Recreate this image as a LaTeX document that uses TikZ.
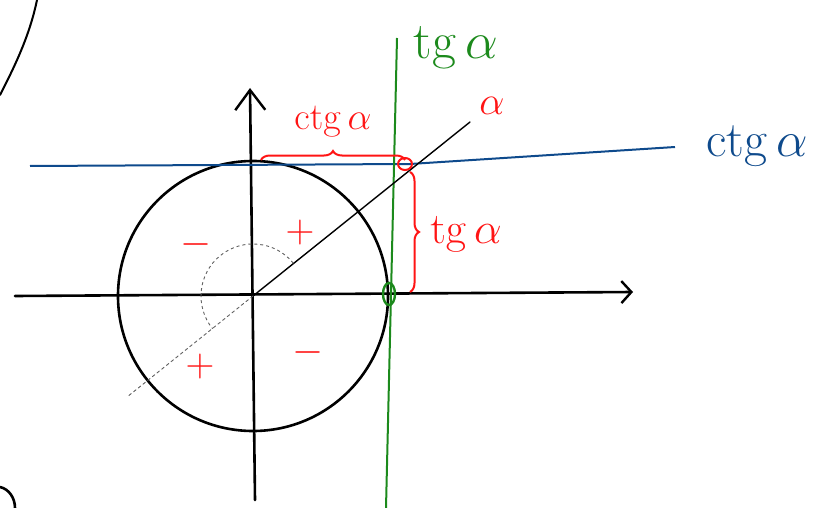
\documentclass[tikz,border=0pt]{standalone}
\usepackage{fix-cm}
\usepackage{amsmath}
\usepackage{xcolor}
\usepackage{tikz}
\usetikzlibrary{arrows.meta,decorations.pathreplacing}
\definecolor{PenRed}{HTML}{FF1414}
\definecolor{PenGreen}{HTML}{1C8A1C}
\definecolor{PenBlue}{HTML}{0E4A8C}
\definecolor{PenGray}{HTML}{606060}

\begin{document}
\begin{tikzpicture}[
    x=1pt, y=-1pt,
    pen/.style={line width=2.6pt, line cap=round, line join=round},
    thin pen/.style={line width=1.4pt, line cap=round},
    axis/.style={pen, -{Straight Barb[length=10pt, width=22pt, line width=2.4pt]}},
    yaxis/.style={pen, -{Straight Barb[length=20pt, width=30pt, line width=2.4pt]}},
    tgline/.style={line width=2pt, draw=PenGreen},
    ctgline/.style={line width=2pt, draw=PenBlue, line join=round},
    brc/.style={decorate, decoration={brace, amplitude=9pt}, line width=2pt, draw=PenRed},
    sgn/.style={text=PenRed, font=\fontsize{40}{42}\selectfont},
    lbl/.style={font=\fontsize{#1}{#1}\selectfont}
  ]
    \useasboundingbox (0,0) rectangle (813,508);

    % points of the sketch
    \coordinate (o) at (253,296);
    \coordinate (xl) at (15,296);
    \coordinate (xr) at (633,292);
    \coordinate (yb) at (255,500);
    \coordinate (yt) at (250,88);
    \coordinate (rad) at (470,122);
    \coordinate (opp) at (127,397);
    \coordinate (ctgl) at (30,166);
    \coordinate (ctgm) at (410,164);
    \coordinate (ctgr) at (675,147);
    \coordinate (tgt) at (397,38);
    \coordinate (tgb) at (386,508);
    \coordinate (tan) at (389,294);
    \coordinate (cross) at (405,164);

    % axes and unit circle
    \draw[axis] (xl) -- (xr);
    \draw[yaxis] (yb) -- (yt);
    \draw[pen] (o) circle[radius=135];

    % tangent and cotangent lines
    \draw[ctgline] (ctgl) -- (ctgm) -- (ctgr);
    \draw[tgline] (tgt) -- (tgb);
    \draw[tgline, line width=2.4pt] (tan) ellipse[x radius=6, y radius=11];

    % angle and its opposite ray
    \draw[thin pen] (o) -- (rad);
    \draw[thin pen, draw=PenGray, dashed, line width=0.9pt] (o) -- (opp);
    \draw[draw=PenGray, dashed, line width=0.9pt] ([shift={(-39:52)}]o) arc[start angle=-39, end angle=-219, radius=52];

    % braces
    \draw[brc] (261,160) -- (405,160);
    \draw[brc] (410,172) -- (410,292);
    \draw[draw=PenRed, line width=2pt] (cross) ellipse[x radius=7, y radius=6];

    % labels
    \node[lbl=52, text=PenGreen] (tglbl) at (456,48) {$\mathrm{tg}\,\alpha$};
    \node[lbl=50, text=PenBlue] (ctglbl) at (757,146) {$\mathrm{ctg}\,\alpha$};
    \node[lbl=38, text=PenRed] (ctgtop) at (333,122) {$\mathrm{ctg}\,\alpha$};
    \node[lbl=44, text=PenRed] (tgside) at (466,234) {$\mathrm{tg}\,\alpha$};
    \node[lbl=40, text=PenRed] (alpha) at (492,106) {$\alpha$};

    % signs of the quadrants
    \node[sgn] (s1) at (300,232) {$+$};
    \node[sgn] (s2) at (196,244) {$-$};
    \node[sgn] (s3) at (200,366) {$+$};
    \node[sgn] (s4) at (308,352) {$-$};

    % stray strokes at the border
    \draw[pen, line width=2pt] (0,95) .. controls (16,64) and (30,34) .. (37,0);
    \draw[pen] (0,487) .. controls (9,489) and (15,498) .. (15,508);
  \end{tikzpicture}
\end{document}
